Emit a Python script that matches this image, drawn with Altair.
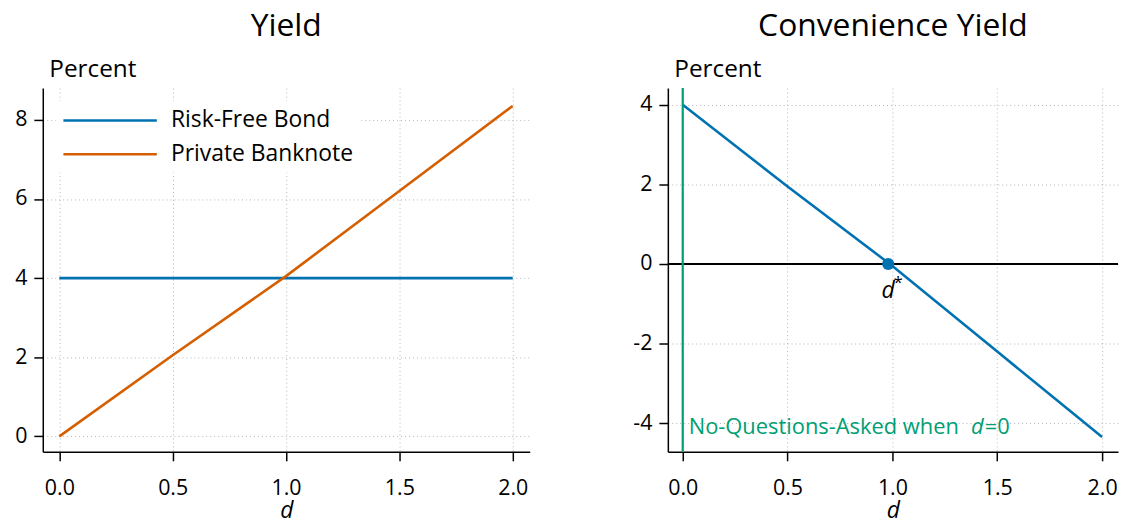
import altair as alt
import pandas as pd

d_vals = [0.0, 0.5, 1.0, 1.5, 2.0]
risk_free = [4.0, 4.0, 4.0, 4.0, 4.0]
banknote = [0.0, 2.05, 4.05, 6.2, 8.35]
convenience = [4.0, 1.95, -0.05, -2.2, -4.35]
d_star = 0.98
series_names = ["Risk-Free Bond", "Private Banknote"]
series_colors = ["#0072B2", "#D55E00"]
green = "#009E73"
FONT = "Open Sans"

x_ticks = [0.0, 0.5, 1.0, 1.5, 2.0]
left_y_ticks = [0, 2, 4, 6, 8]
right_y_ticks = [-4, -2, 0, 2, 4]

left_df = pd.DataFrame({
    "d": d_vals * 2,
    "value": risk_free + banknote,
    "series": [series_names[0]] * len(d_vals) + [series_names[1]] * len(d_vals),
})
right_df = pd.DataFrame({"d": d_vals, "value": convenience})

Y_LABEL = "datum.value < 0 ? '-' + abs(datum.value) : '' + datum.value"


def x_axis():
    return alt.Axis(values=x_ticks, format=".1f", title="d", titleFontStyle="italic",
                    titleFontSize=23, titleFontWeight="normal", titlePadding=1,
                    labelPadding=17)


def y_axis(vals):
    return alt.Axis(values=vals, labelExpr=Y_LABEL, title="Percent", titleAngle=0,
                    titleAlign="left", titleX=6, titleY=-12, titleBaseline="alphabetic",
                    titleFontSize=24.5, titleFontWeight="normal", minExtent=34, maxExtent=34,
                    labelPadding=7)


left_lines = alt.Chart(left_df).mark_line(strokeWidth=2.6).encode(
    x=alt.X("d:Q", scale=alt.Scale(domain=[-0.073, 2.075], nice=False, zero=False), axis=x_axis()),
    y=alt.Y("value:Q", scale=alt.Scale(domain=[-0.39, 8.8], nice=False, zero=False),
            axis=y_axis(left_y_ticks)),
    color=alt.Color("series:N", sort=series_names,
                    scale=alt.Scale(domain=series_names, range=series_colors),
                    legend=alt.Legend(title=None, orient="none", legendX=13, legendY=13,
                                      symbolType="M-1,0H7", symbolSize=552,
                                      symbolStrokeWidth=2.6, symbolFillColor="transparent",
                                      labelOffset=83, labelFontSize=23, labelFont=FONT,
                                      labelLimit=400, rowPadding=8, fillColor="white",
                                      padding=6)),
)

left = left_lines.properties(width=490, height=366, title="Yield")

xs = alt.Scale(domain=[-0.071, 2.076], nice=False, zero=False)
ys = alt.Scale(domain=[-4.72, 4.42], nice=False, zero=False)

conv_line = alt.Chart(right_df).mark_line(strokeWidth=2.6, color=series_colors[0]).encode(
    x=alt.X("d:Q", scale=xs, axis=x_axis()),
    y=alt.Y("value:Q", scale=ys, axis=y_axis(right_y_ticks)),
)
zero_rule = alt.Chart(pd.DataFrame({"y": [0]})).mark_rule(color="black", strokeWidth=1.8).encode(
    y=alt.Y("y:Q", scale=ys))
green_rule = alt.Chart(pd.DataFrame({"x": [0.0]})).mark_rule(color=green, strokeWidth=2.2).encode(
    x=alt.X("x:Q", scale=xs))
star_df = pd.DataFrame({"d": [d_star], "value": [0.0], "t": ["d"], "s": ["*"]})
star_pt = alt.Chart(star_df).mark_point(filled=True, size=150, opacity=1,
                                        color=series_colors[0]).encode(
    x=alt.X("d:Q", scale=xs), y=alt.Y("value:Q", scale=ys))
star_d = alt.Chart(star_df).mark_text(fontStyle="italic", fontSize=23, font=FONT, dy=27,
                                      align="center", color="black").encode(
    x=alt.X("d:Q", scale=xs), y=alt.Y("value:Q", scale=ys), text="t:N")
star_s = alt.Chart(star_df).mark_text(fontSize=17, font=FONT, dx=10, dy=19,
                                      align="center", color="black").encode(
    x=alt.X("d:Q", scale=xs), y=alt.Y("value:Q", scale=ys), text="s:N")

nqa_df = pd.DataFrame({"d": [0.0], "value": [-4.0],
                       "a": ["No-Questions-Asked when"], "b": ["d"], "c": ["=0"]})
nqa_a = alt.Chart(nqa_df).mark_text(fontSize=22, font=FONT, align="left", baseline="middle",
                                    dx=6, dy=4, color=green).encode(
    x=alt.X("d:Q", scale=xs), y=alt.Y("value:Q", scale=ys), text="a:N")
nqa_b = alt.Chart(nqa_df).mark_text(fontSize=22, font=FONT, fontStyle="italic", align="left",
                                    baseline="middle", dx=290, dy=4, color=green).encode(
    x=alt.X("d:Q", scale=xs), y=alt.Y("value:Q", scale=ys), text="b:N")
nqa_c = alt.Chart(nqa_df).mark_text(fontSize=22, font=FONT, align="left", baseline="middle",
                                    dx=304, dy=4, color=green).encode(
    x=alt.X("d:Q", scale=xs), y=alt.Y("value:Q", scale=ys), text="c:N")

right = alt.layer(conv_line, zero_rule, green_rule, star_pt, star_d, star_s,
                  nqa_a, nqa_b, nqa_c).properties(width=453, height=366,
                                                  title="Convenience Yield")

chart = alt.hconcat(left, right, spacing=102).properties(padding=0).configure(
    font=FONT
).configure_view(stroke="transparent").configure_axis(
    grid=True, gridDash=[1, 3], gridColor="#b5b5b5", gridWidth=1,
    domainColor="black", domainWidth=1.5, tickColor="black", tickWidth=1.5, tickSize=9,
    labelFontSize=21.5, labelColor="black", titleColor="black", labelFont=FONT, titleFont=FONT,
).configure_title(
    fontSize=32, fontWeight="normal", font=FONT, anchor="middle", offset=13, color="black"
)

chart.save("out.html", embed_options={"renderer": "svg", "actions": False})
